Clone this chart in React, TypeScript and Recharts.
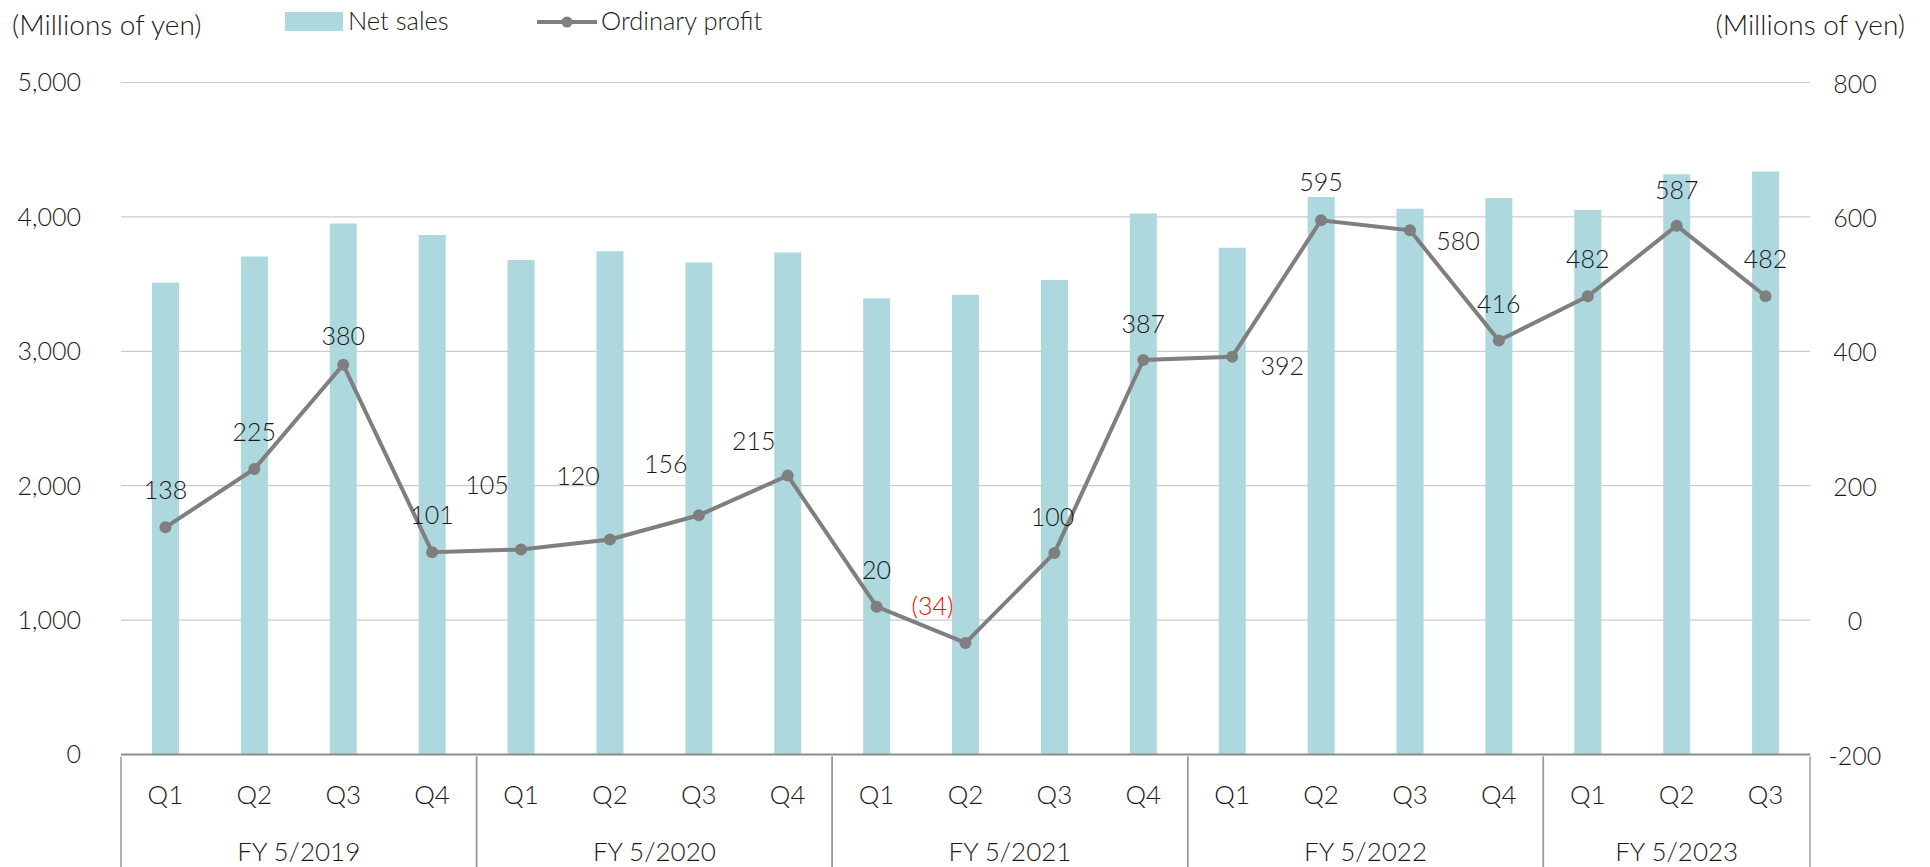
import React from "react";
import { ComposedChart, Bar, Line, XAxis, YAxis, CartesianGrid } from "recharts";

const QUARTERS = ["Q1", "Q2", "Q3", "Q4", "Q1", "Q2", "Q3", "Q4", "Q1", "Q2", "Q3", "Q4", "Q1", "Q2", "Q3", "Q4", "Q1", "Q2", "Q3"];
const FISCAL_YEARS = ["FY 5/2019", "FY 5/2020", "FY 5/2021", "FY 5/2022", "FY 5/2023"];
const YEAR_OF = [0, 0, 0, 0, 1, 1, 1, 1, 2, 2, 2, 2, 3, 3, 3, 3, 4, 4, 4];
const NET_SALES = [3510, 3705, 3950, 3865, 3680, 3745, 3660, 3735, 3395, 3420, 3530, 4025, 3770, 4148, 4060, 4140, 4052, 4318, 4338];
const ORDINARY_PROFIT = [138, 225, 380, 101, 105, 120, 156, 215, 20, -34, 100, 387, 392, 595, 580, 416, 482, 587, 482];
const SALES_TICKS = [0, 1000, 2000, 3000, 4000, 5000];
const PROFIT_TICKS = [-200, 0, 200, 400, 600, 800];

// where each profit label sits relative to its dot (px)
const LABEL_SHIFT = [
  [0, -38], [0, -38], [0, -30], [0, -38],
  [-34, -66], [-32, -64], [-33, -52], [-34, -36],
  [0, -38], [-33, -38], [-2, -37], [0, -37],
  [50, 8], [0, -39], [48, 10], [0, -38],
  [0, -38], [0, -37], [0, -38],
];

const FONT = "Lato, 'Liberation Sans', sans-serif";
const TEXT = "#1a1a1a";
const W = 1930;
const H = 867;
const PLOT_LEFT = 121;
const PLOT_RIGHT = 1810;
const BAND = (PLOT_RIGHT - PLOT_LEFT) / QUARTERS.length;

const fmt = (v: number) => (v < 0 ? `(${-v})` : `${v}`);

function QuarterTick(props: any) {
  const { x, y, index } = props;
  const i = index as number;
  const first = i === 0 || YEAR_OF[i] !== YEAR_OF[i - 1];
  const last = i === QUARTERS.length - 1 || YEAR_OF[i] !== YEAR_OF[i + 1];
  const count = YEAR_OF.filter((g) => g === YEAR_OF[i]).length;
  const left = x - BAND / 2;
  return (
    <g>
      <text x={x} y={y + 37} textAnchor="middle" dominantBaseline="central" fontSize={26} fontWeight={300} fill={TEXT} fontFamily={FONT}>
        {QUARTERS[i]}
      </text>
      {first && <line x1={left} x2={left} y1={y} y2={H} stroke="#9a9a9a" strokeWidth={1.5} />}
      {last && <line x1={x + BAND / 2} x2={x + BAND / 2} y1={y} y2={H} stroke="#9a9a9a" strokeWidth={1.5} />}
      {first && (
        <text x={left + (BAND * count) / 2} y={y + 94} textAnchor="middle" dominantBaseline="central" fontSize={26} fontWeight={300} fill={TEXT} fontFamily={FONT}>
          {FISCAL_YEARS[YEAR_OF[i]]}
        </text>
      )}
    </g>
  );
}

function ProfitTick(props: any) {
  const { x, y, payload } = props;
  return (
    <text x={x + 43} y={y} textAnchor="middle" dominantBaseline="central" fontSize={25} fontWeight={300} fill={TEXT} fontFamily={FONT}>
      {payload.value}
    </text>
  );
}

function ProfitDot(props: any) {
  const { cx, cy, index } = props;
  const v = ORDINARY_PROFIT[index];
  const [dx, dy] = LABEL_SHIFT[index];
  return (
    <g key={`d${index}`}>
      <circle cx={cx} cy={cy} r={6} fill="#7f7f7f" />
      <text x={cx + dx} y={cy + dy} textAnchor="middle" dominantBaseline="central" fontSize={25} fontWeight={300} fill={v < 0 ? "#ff0000" : TEXT} fontFamily={FONT}>
        {fmt(v)}
      </text>
    </g>
  );
}

export default function App() {
  const data = QUARTERS.map((q, i) => ({ q, sales: NET_SALES[i], profit: ORDINARY_PROFIT[i] }));
  const label = { position: "absolute" as const, fontWeight: 300, lineHeight: "30px", whiteSpace: "nowrap" as const };

  return (
    <div style={{ position: "absolute", left: 0, top: 0, width: W, height: H, background: "#fff", fontFamily: FONT, color: TEXT }}>
      <ComposedChart width={W} height={H} data={data} margin={{ top: 82.5, right: 20, bottom: 0, left: 21 }}>
        <CartesianGrid yAxisId="left" vertical={false} stroke="#cccccc" strokeWidth={1.2} />
        <XAxis
          dataKey="q"
          interval={0}
          height={112.5}
          tickSize={0}
          tickLine={false}
          axisLine={{ stroke: "#8c8c8c", strokeWidth: 2 }}
          tick={<QuarterTick />}
        />
        <YAxis
          yAxisId="left"
          width={100}
          domain={[0, 5000]}
          ticks={SALES_TICKS}
          tickFormatter={(v: number) => v.toLocaleString("en-US")}
          tickSize={0}
          tickMargin={40}
          axisLine={false}
          tickLine={false}
          tick={{ fontSize: 25, fontWeight: 300, fill: TEXT, fontFamily: FONT }}
        />
        <YAxis
          yAxisId="right"
          orientation="right"
          width={100}
          domain={[-200, 800]}
          ticks={PROFIT_TICKS}
          tickSize={0}
          axisLine={false}
          tickLine={false}
          tick={<ProfitTick />}
        />
        <Bar yAxisId="left" dataKey="sales" fill="#add8de" barSize={27} isAnimationActive={false} />
        <Line
          yAxisId="right"
          dataKey="profit"
          stroke="#7f7f7f"
          strokeWidth={4}
          dot={(p: any) => <ProfitDot {...p} />}
          activeDot={false}
          isAnimationActive={false}
        />
      </ComposedChart>

      <div style={{ ...label, fontSize: 28, left: 12, top: 9 }}>(Millions of yen)</div>
      <div style={{ ...label, fontSize: 28, right: 25, top: 9 }}>(Millions of yen)</div>

      <div style={{ position: "absolute", left: 285, top: 12, width: 58, height: 19, background: "#add8de" }} />
      <div style={{ ...label, fontSize: 25.5, left: 348, top: 5 }}>Net sales</div>
      <svg style={{ position: "absolute", left: 536, top: 12 }} width={62} height={20}>
        <line x1={1} x2={61} y1={10} y2={10} stroke="#7f7f7f" strokeWidth={4} />
        <circle cx={31} cy={10} r={5.5} fill="#7f7f7f" />
      </svg>
      <div style={{ ...label, fontSize: 25.5, left: 601, top: 5 }}>Ordinary profit</div>
    </div>
  );
}
